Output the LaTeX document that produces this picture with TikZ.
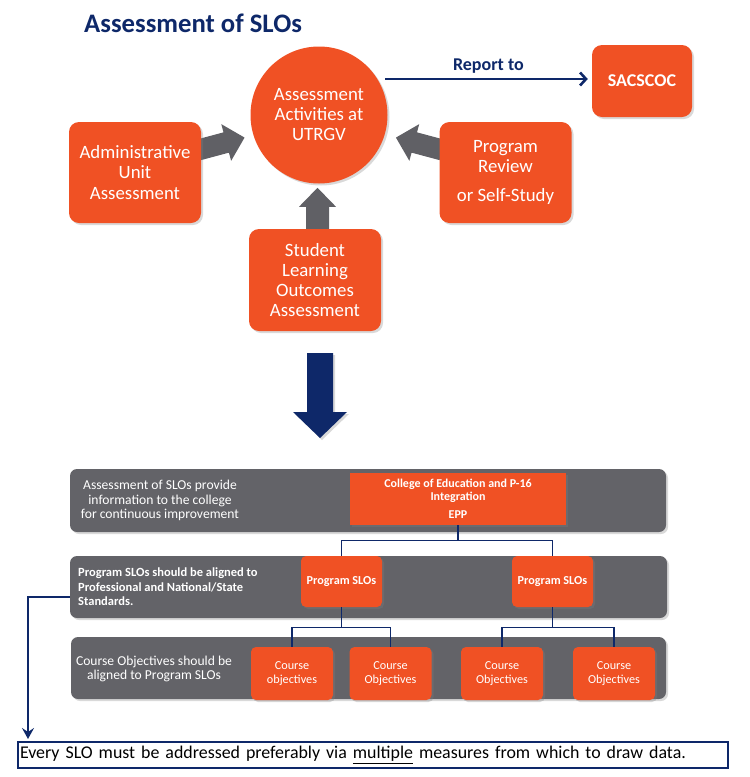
\documentclass[tikz,border=0pt]{standalone}
\usepackage{fontspec}
\setmainfont{Carlito}
\usetikzlibrary{arrows.meta,shadows,calc}
\definecolor{orng}{RGB}{240,81,36}
\definecolor{bandgray}{RGB}{99,99,104}
\definecolor{arrgray}{RGB}{96,96,101}
\definecolor{navy}{RGB}{14,40,105}
\newcommand{\fsz}[2]{\fontsize{#1}{#2}\selectfont}
\pgfdeclarelayer{bg}
\pgfsetlayers{bg,main}
\begin{document}
\begin{tikzpicture}[x=1pt,y=-1pt,
  shd/.style={drop shadow={opacity=0.3, shadow xshift=2pt, shadow yshift=-2pt}},
  obox/.style={fill=orng, text=white, rounded corners=10pt, inner sep=0pt, align=center, shd,
    minimum width=132pt, minimum height=101pt, font=\fsz{18.8}{20.3}},
  band/.style={fill=bandgray, rounded corners=7pt, inner sep=0pt, shd},
  bandtxt/.style={text=white, align=center, inner sep=0pt, font=\fsz{13.6}{14.5}},
  psl/.style={fill=orng, text=white, rounded corners=5pt, inner sep=0pt, shd,
    minimum width=81pt, minimum height=51pt, font=\bfseries\fsz{12.2}{14}},
  cbox/.style={fill=orng, text=white, rounded corners=5pt, inner sep=0pt, shd, align=center,
    minimum width=82pt, minimum height=53pt, font=\fsz{12.2}{14}},
  conn/.style={draw=navy, line width=1.3pt},
  blockarrow/.style={fill=arrgray}
]
\useasboundingbox (0,0) rectangle (750,777);

% title
\node[anchor=base west, text=navy, inner sep=0pt, font=\bfseries\fsz{26.7}{30}] (title) at (84,32) {Assessment of SLOs};

% upper part
\node[circle, fill=orng, minimum size=137pt, inner sep=0pt, text=white, align=center, shd,
  font=\fsz{18.8}{20}] (circ) at (319,115) {Assessment\\Activities at\\UTRGV};
\node[obox] (admin) at (135,172.5) {Administrative\\Unit\\Assessment};
\node[obox] (prog) at (505.5,172.5) {Program\\Review\\[9pt]or Self-Study};
\node[obox, minimum height=102pt] (stud) at (315,280) {Student\\Learning\\Outcomes\\Assessment};
\node[obox, minimum width=100pt, minimum height=72pt, font=\bfseries\fsz{18}{20}] (sac) at (642,81) {SACSCOC};

\begin{pgfonlayer}{bg}
\fill[blockarrow, shift={($(admin.east)+(-3,-22.5)$)}, rotate=15]
  (0,-10.5) -- (29,-10.5) -- (29,-19) -- (48,0) -- (29,19) -- (29,10.5) -- (0,10.5) -- cycle;
\fill[blockarrow, shift={($(prog.west)+(3,-22.5)$)}, rotate=165]
  (0,-10.5) -- (29,-10.5) -- (29,-19) -- (48,0) -- (29,19) -- (29,10.5) -- (0,10.5) -- cycle;
\fill[blockarrow, shift={(stud.north)}]
  (-9,2) -- (-9,-22) -- (-16,-22) -- (2.5,-41) -- (21,-22) -- (14,-22) -- (14,2) -- cycle;
\end{pgfonlayer}

\coordinate (rstart) at (385,79);
\draw[navy, line width=2.6pt, -{Straight Barb[length=6pt,width=13pt]}, shorten >=4pt]
  (rstart) -- (sac.west |- rstart) node[midway, above=1pt, text=navy, font=\bfseries\fsz{18}{20}] (rep) {Report to};

% big navy down arrow
\fill[navy, drop shadow={opacity=0.3, shadow xshift=2pt, shadow yshift=-2pt}]
  (307,353) -- (333,353) -- (333,412) -- (347,412) -- (320,438) -- (293,412) -- (307,412) -- cycle;

% lower part
\node[band, minimum width=596pt, minimum height=63pt] (b1) at (368,500.5) {};
\node[bandtxt] (t1) at (160,500.5) {Assessment of SLOs provide\\information to the college\\for continuous improvement};
\node[fill=orng, text=white, inner sep=0pt, align=center, minimum width=216pt, minimum height=52pt, shd,
  font=\bfseries\fsz{12}{13}] (epp) at (458,499) {College of Education and P-16\\Integration\\[5pt]EPP};

\node[band, minimum width=597pt, minimum height=62pt] (b2) at (368.5,587) {};
\node[text=white, align=left, inner sep=0pt, anchor=west, font=\bfseries\fsz{12.5}{14.5}] (t2) at (78,587)
  {Program SLOs should be aligned to\\Professional and National/State\\Standards.};
\node[psl] (p1) at (341.5,581.5) {Program SLOs};
\node[psl] (p2) at (552.5,581.5) {Program SLOs};

\node[band, minimum width=595pt, minimum height=62pt] (b3) at (368.5,668) {};
\node[bandtxt] (t3) at (154,669) {Course Objectives should be\\aligned to Program SLOs};
\node[cbox] (c1) at (292,673.5) {Course\\objectives};
\node[cbox] (c2) at (390.5,673.5) {Course\\Objectives};
\node[cbox] (c3) at (502,673.5) {Course\\Objectives};
\node[cbox] (c4) at (614,673.5) {Course\\Objectives};

\draw[conn] (epp.south) -- ++(0,15) coordinate (j1) -| (p1.north);
\draw[conn] (j1) -| (p2.north);
\draw[conn] (p1.south) -- ++(0,20) coordinate (j2) -| (c1.north);
\draw[conn] (j2) -| (c2.north);
\draw[conn] (p2.south) -- ++(0,20) coordinate (j3) -| (c3.north);
\draw[conn] (j3) -| (c4.north);

% bottom box
\node[draw=navy, line width=2pt, minimum width=710pt, minimum height=26pt, inner xsep=2pt, inner ysep=0pt,
  text width=706pt, align=left, font=\fsz{17.9}{20}] (bot) at (373,755)
  {Every SLO must be addressed preferably via \underline{multiple} measures from which to draw data.};

\coordinate (lft) at (28,597);
\draw[navy, line width=2pt, -{Stealth[length=11pt,width=12pt,inset=4pt]}, shorten >=2pt]
  (b2.west |- lft) -- (lft) -- (lft |- bot.north);
\end{tikzpicture}
\end{document}
